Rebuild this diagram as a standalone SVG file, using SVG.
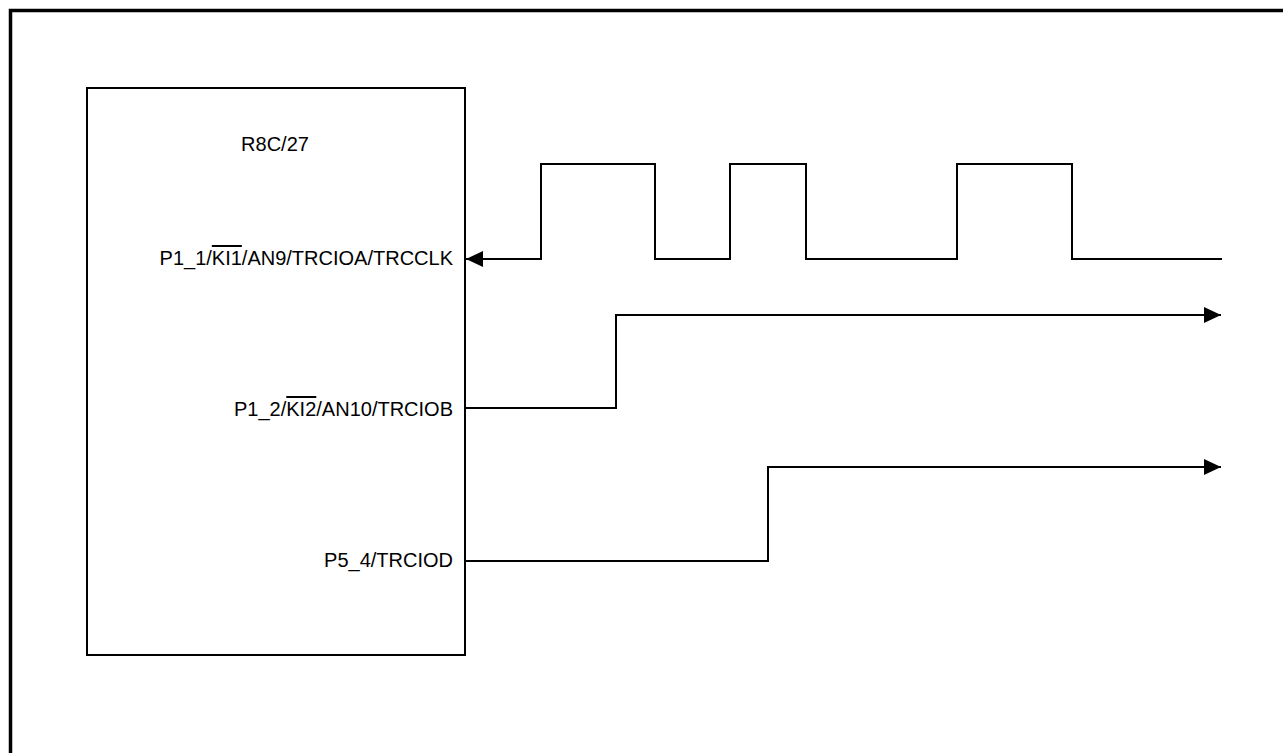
<svg xmlns="http://www.w3.org/2000/svg" width="1283" height="753" viewBox="0 0 1283 753">
<style>
.frame{fill:none;stroke:#000;stroke-width:3.5}
.box{fill:none;stroke:#000;stroke-width:2}
.sig{fill:none;stroke:#000;stroke-width:2}
.lbl{font-family:"Liberation Sans",Arial,sans-serif;font-size:20px;fill:#000}
.ov{text-decoration:overline}
</style>
<defs>
<marker id="ah" viewBox="0 0 17 16" refX="17" refY="8" markerWidth="17" markerHeight="16" markerUnits="userSpaceOnUse" orient="auto">
<path d="M0,0 L17,8 L0,16 Z" fill="#000"/>
</marker>
</defs>
<rect width="1283" height="753" fill="#fff"/>
<path class="frame" d="M10.5,753 L10.5,10.5 L1283,10.5"/>
<g id="chip">
<rect class="box" x="87" y="88" width="378" height="567"/>
<text class="lbl" x="275" y="151" text-anchor="middle">R8C/27</text>
<text class="lbl" x="453" y="265" text-anchor="end">P1_1/<tspan class="ov">KI1</tspan>/AN9/TRCIOA/TRCCLK</text>
<text class="lbl" x="453" y="416" text-anchor="end">P1_2/<tspan class="ov">KI2</tspan>/AN10/TRCIOB</text>
<text class="lbl" x="453" y="567" text-anchor="end">P5_4/TRCIOD</text>
</g>
<g id="connectors">
<path id="clk" class="sig" d="M1222,259 L1072,259 L1072,164 L957,164 L957,259 L806,259 L806,164 L730,164 L730,259 L655,259 L655,164 L541,164 L541,259 L466,259" marker-end="url(#ah)"/>
<path id="trciob" class="sig" d="M466,408 L616,408 L616,315 L1221,315" marker-end="url(#ah)"/>
<path id="trciod" class="sig" d="M466,561 L768,561 L768,467 L1221,467" marker-end="url(#ah)"/>
</g>
</svg>
